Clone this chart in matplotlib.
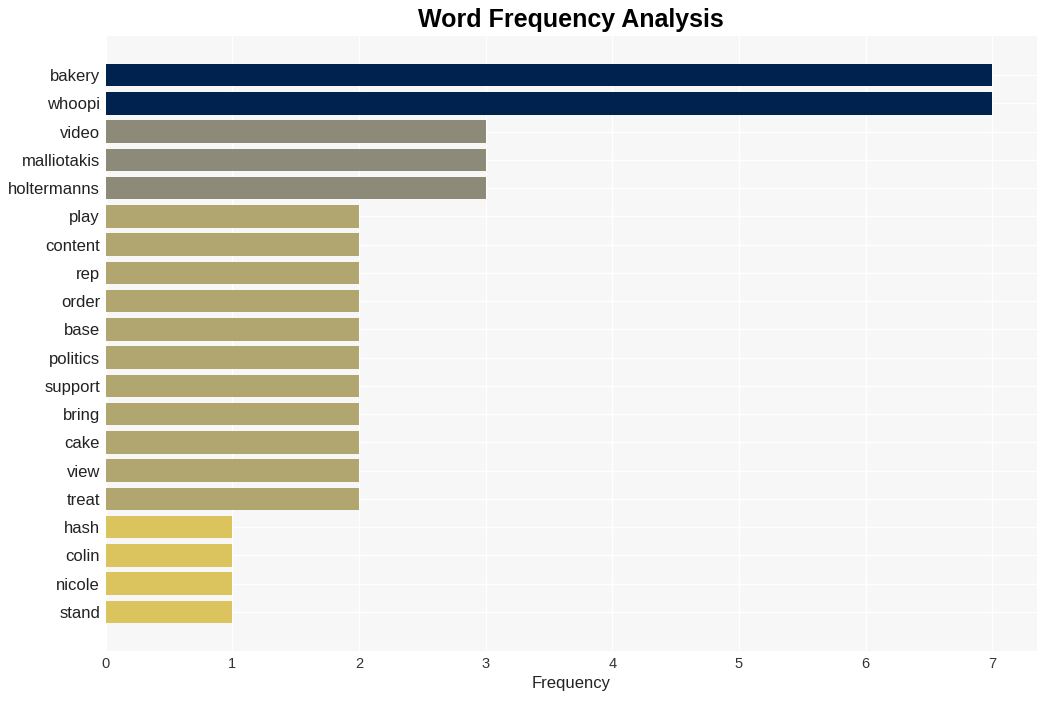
import matplotlib.pyplot as plt

plt.rcParams['font.family'] = ['Liberation Sans', 'DejaVu Sans']

words = ['bakery', 'whoopi', 'video', 'malliotakis', 'holtermanns', 'play',
         'content', 'rep', 'order', 'base', 'politics', 'support', 'bring',
         'cake', 'view', 'treat', 'hash', 'colin', 'nicole', 'stand']
counts = [7, 7, 3, 3, 3, 2, 2, 2, 2, 2, 2, 2, 2, 2, 2, 2, 1, 1, 1, 1]

# colour per frequency level
level_colors = {7: '#00224e', 3: '#8e8a79', 2: '#b1a570', 1: '#dbc45e'}
colors = [level_colors[c] for c in counts]

fig, ax = plt.subplots(figsize=(10.46, 7.01), dpi=100)
fig.subplots_adjust(left=0.101, right=0.991, top=0.949, bottom=0.071)

ax.barh(range(len(words)), counts, color=colors, height=0.8, zorder=3)
ax.set_yticks(range(len(words)))
ax.set_yticklabels(words, fontsize=12, color='#222222')
ax.invert_yaxis()
ax.set_xlim(0, max(counts) * 1.05)

ax.set_facecolor('#f7f7f7')
ax.grid(True, color='white', linewidth=1, zorder=0)
ax.set_axisbelow(True)
for s in ax.spines.values():
    s.set_visible(False)
ax.tick_params(length=0, pad=4)
ax.tick_params(axis='x', labelsize=10.5, colors='#333333')

ax.set_xlabel('Frequency', fontsize=12, color='#222222')
ax.set_title('Word Frequency Analysis', fontsize=18, fontweight='bold', pad=6)

fig.savefig('out.png', dpi=100)
